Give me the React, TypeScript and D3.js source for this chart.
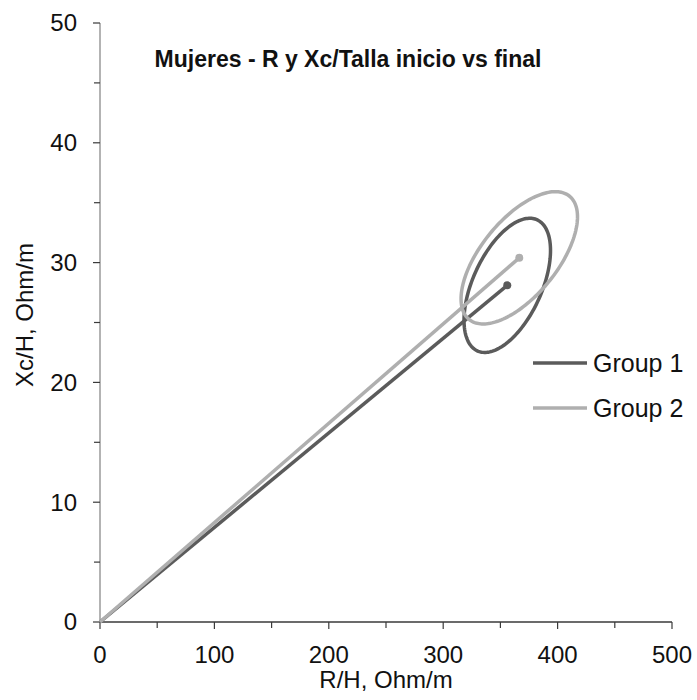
import React from "react";
import * as d3 from "d3";

const groups = ["Group 1", "Group 2"];
const colors = ["#5b5b5b", "#afafaf"];
// centre of each group (R/H, Xc/H)
const rCenter = [356, 366.5];
const xcCenter = [28.1, 30.4];
// half-extent of the tolerance ellipse on each axis and correlation
const rHalf = [37.8, 50.9];
const xcHalf = [5.6, 5.52];
const corr = [0.52, 0.62];

const xTicks = [0, 100, 200, 300, 400, 500];
const yTicks = [0, 10, 20, 30, 40, 50];
const xMinor = [50, 150, 250, 350, 450];
const yMinor = [5, 15, 25, 35, 45];

const W = 697, H = 700;
const FONT = "Liberation Sans, Arial, sans-serif";

export default function App() {
  const x = d3.scaleLinear().domain([0, 500]).range([100, 672]);
  const y = d3.scaleLinear().domain([0, 50]).range([622, 23]);
  const line = d3.line<[number, number]>().x(d => x(d[0])).y(d => y(d[1]));
  const ts = d3.range(0, 2 * Math.PI + 0.001, Math.PI / 90);

  const ellipse = (i: number) =>
    line.curve(d3.curveLinearClosed)(
      ts.map(t => [
        rCenter[i] + rHalf[i] * Math.cos(t),
        xcCenter[i] + xcHalf[i] * (corr[i] * Math.cos(t) + Math.sqrt(1 - corr[i] * corr[i]) * Math.sin(t)),
      ] as [number, number])
    );
  const straight = d3.line<[number, number]>().x(d => x(d[0])).y(d => y(d[1]));

  return (
    <svg width={W} height={H} style={{ position: "absolute", left: 0, top: 0 }} fontFamily={FONT}>
      <rect width={W} height={H} fill="#fff" />
      {/* axes */}
      <line x1={x(0)} x2={x(0)} y1={y(50)} y2={y(0)} stroke="#8a8a8a" strokeWidth={1.3} />
      <line x1={x(0)} x2={x(500)} y1={y(0)} y2={y(0)} stroke="#3a3a3a" strokeWidth={1.3} />
      {yTicks.map(t => (
        <g key={"y" + t}>
          <line x1={x(0) - 7} x2={x(0)} y1={y(t)} y2={y(t)} stroke="#3a3a3a" strokeWidth={1.2} />
          <text x={77} y={y(t)} dy="0.35em" textAnchor="end" fontSize={24} fill="#111">{t}</text>
        </g>
      ))}
      {yMinor.map(t => (
        <line key={"ym" + t} x1={x(0) - 6} x2={x(0)} y1={y(t)} y2={y(t)} stroke="#3a3a3a" strokeWidth={1.2} />
      ))}
      {xTicks.map(t => (
        <g key={"x" + t}>
          <line x1={x(t)} x2={x(t)} y1={y(0)} y2={y(0) + 7} stroke="#3a3a3a" strokeWidth={1.2} />
          <text x={x(t)} y={663} textAnchor="middle" fontSize={24} fill="#111">{t}</text>
        </g>
      ))}
      {xMinor.map(t => (
        <line key={"xm" + t} x1={x(t)} x2={x(t)} y1={y(0)} y2={y(0) + 6} stroke="#3a3a3a" strokeWidth={1.2} />
      ))}
      <text x={386} y={688} textAnchor="middle" fontSize={24} fill="#111">R/H, Ohm/m</text>
      <text transform="translate(33,315) rotate(-90)" textAnchor="middle" fontSize={24} fill="#111">Xc/H, Ohm/m</text>
      <text x={348} y={67} textAnchor="middle" fontSize={23} fontWeight="bold" fill="#111">
        Mujeres - R y Xc/Talla inicio vs final
      </text>
      {/* data */}
      {groups.map((g, i) => (
        <g key={g}>
          <path d={ellipse(i) || ""} fill="none" stroke={colors[i]} strokeWidth={3.5} />
          <path d={straight([[0, 0], [rCenter[i], xcCenter[i]]]) || ""} fill="none" stroke={colors[i]} strokeWidth={3.5} />
          <circle cx={x(rCenter[i])} cy={y(xcCenter[i])} r={4} fill={colors[i]} />
        </g>
      ))}
      {/* legend */}
      {groups.map((g, i) => (
        <g key={"lg" + g}>
          <line x1={533} x2={587} y1={363 + i * 45} y2={363 + i * 45} stroke={colors[i]} strokeWidth={3.5} />
          <text x={593} y={363 + i * 45} dy="0.35em" fontSize={25} fill="#111">{g}</text>
        </g>
      ))}
    </svg>
  );
}
